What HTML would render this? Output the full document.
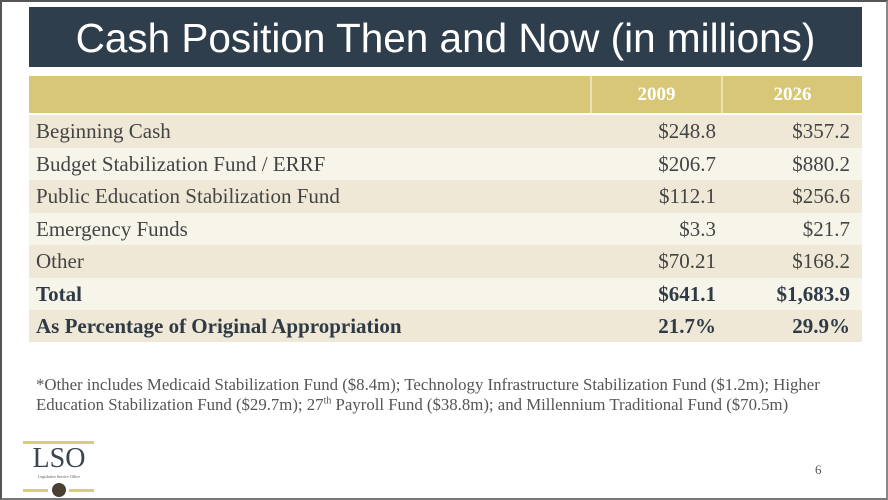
<!DOCTYPE html>
<html><head><meta charset="utf-8"><style>
body{margin:0;width:888px;height:500px;overflow:hidden;background:#fff;position:relative;font-family:"Liberation Serif",serif}
.frame{position:absolute;left:0;top:0;width:884px;height:496px;border:2px solid #555;border-right-color:#888;border-bottom-color:#777}
.title{position:absolute;left:29px;top:7px;width:833px;height:60px;background:#2f3e4c;color:#fff;font-family:"Liberation Sans",sans-serif;font-size:40.5px;line-height:62px;text-align:center}
.row{position:absolute;left:29px;width:833px;font-size:21px;color:#444}
.row div{position:absolute;top:0;height:100%;display:flex;align-items:center}
.lab{left:7px}
.c1{left:541px;width:146px;justify-content:flex-end}
.c2{left:675px;width:146px;justify-content:flex-end}
.hdr{background:#d7c776;color:#fff;font-weight:bold;font-size:19px}
.hdr .h1{left:561px;width:133px;justify-content:center;border-left:2px solid #ebe2b8;border-right:2px solid #ebe2b8;box-sizing:border-box}
.hdr .h2{left:694px;width:139px;justify-content:center}
.bold{font-weight:bold;color:#2e3a45}
.note{position:absolute;left:36px;top:375px;font-size:16.8px;color:#555;line-height:20px;white-space:nowrap}
</style></head><body>
<div class="frame"></div>
<div class="title">Cash Position Then and Now (in millions)</div>
<div class="row hdr" style="top:76px;height:37px">
<div class="h1">2009</div>
<div class="h2">2026</div>
</div>
<div class="row" style="top:115px;height:33px;background:#efe8d6"><div class="lab">Beginning Cash</div><div class="c1">$248.8</div><div class="c2">$357.2</div></div>
<div class="row" style="top:148px;height:32px;background:#f7f4ea"><div class="lab">Budget Stabilization Fund / ERRF</div><div class="c1">$206.7</div><div class="c2">$880.2</div></div>
<div class="row" style="top:180px;height:33px;background:#efe8d6"><div class="lab">Public Education Stabilization Fund</div><div class="c1">$112.1</div><div class="c2">$256.6</div></div>
<div class="row" style="top:213px;height:32px;background:#f7f4ea"><div class="lab">Emergency Funds</div><div class="c1">$3.3</div><div class="c2">$21.7</div></div>
<div class="row" style="top:245px;height:33px;background:#efe8d6"><div class="lab">Other</div><div class="c1">$70.21</div><div class="c2">$168.2</div></div>
<div class="row bold" style="top:278px;height:32px;background:#f7f4ea"><div class="lab">Total</div><div class="c1">$641.1</div><div class="c2">$1,683.9</div></div>
<div class="row bold" style="top:310px;height:32px;background:#efe8d6"><div class="lab">As Percentage of Original Appropriation</div><div class="c1">21.7%</div><div class="c2">29.9%</div></div>
<div class="note">*Other includes Medicaid Stabilization Fund ($8.4m); Technology Infrastructure Stabilization Fund ($1.2m); Higher<br>Education Stabilization Fund ($29.7m); 27<sup style="font-size:10px;line-height:0">th</sup> Payroll Fund ($38.8m); and Millennium Traditional Fund ($70.5m)</div>
<div style="position:absolute;left:23px;top:441px;width:72px;height:56px">
<div style="position:absolute;left:0;top:0;width:71px;height:3px;background:#d8cc7a"></div>
<div style="position:absolute;left:0;top:3px;width:72px;text-align:center;font-size:28px;color:#3a4550;line-height:30px">LSO</div>
<div style="position:absolute;left:0;top:33px;width:72px;text-align:center;font-size:4px;color:#555">Legislative Service Office</div>
<div style="position:absolute;left:0;top:48px;width:25px;height:3px;background:#d8cc7a"></div>
<div style="position:absolute;left:46px;top:48px;width:25px;height:3px;background:#d8cc7a"></div>
<div style="position:absolute;left:29px;top:42px;width:14px;height:14px;border-radius:50%;background:#4a4030"></div>
</div>
<div style="position:absolute;left:815px;top:462px;font-size:13px;color:#555">6</div>
</body></html>
